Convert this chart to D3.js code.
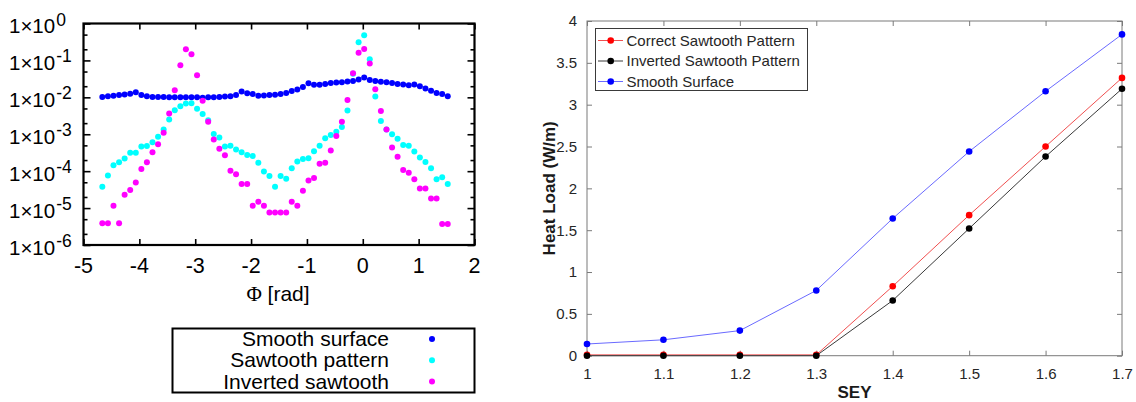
<!DOCTYPE html>
<html>
<head>
<meta charset="utf-8">
<script src="https://cdn.jsdelivr.net/npm/d3@7"></script>
<style>
  body { margin: 0; background: #fff; }
  svg { display: block; }
</style>
</head>
<body>
<svg id="chart" width="1136" height="402"></svg>
<script>
// ---------- left panel: angular distribution (log scale) ----------
const phi = [
  -4.663, -4.563, -4.463, -4.363, -4.264, -4.164, -4.064, -3.964, -3.865, -3.765,
  -3.665, -3.565, -3.466, -3.366, -3.266, -3.167, -3.067, -2.967, -2.867, -2.768,
  -2.668, -2.568, -2.468, -2.369, -2.269, -2.169, -2.069, -1.970, -1.870, -1.770,
  -1.671, -1.571, -1.471, -1.371, -1.272, -1.172, -1.072, -0.972, -0.873, -0.773,
  -0.673, -0.573, -0.474, -0.374, -0.274, -0.175, -0.075, 0.025, 0.125, 0.224,
  0.324, 0.424, 0.524, 0.623, 0.723, 0.823, 0.923, 1.022, 1.122, 1.222,
  1.321, 1.421, 1.521
];
const smoothSurface = [
  1.02e-2, 1.07e-2, 1.10e-2, 1.15e-2, 1.20e-2, 1.26e-2, 1.38e-2, 1.15e-2, 1.07e-2, 1.02e-2,
  1.02e-2, 1.02e-2, 1.00e-2, 1.00e-2, 1.00e-2, 1.00e-2, 1.00e-2, 1.00e-2, 0.98e-2, 1.00e-2,
  1.00e-2, 1.02e-2, 1.05e-2, 1.07e-2, 1.15e-2, 1.45e-2, 1.29e-2, 1.23e-2, 1.10e-2, 1.12e-2,
  1.15e-2, 1.17e-2, 1.23e-2, 1.32e-2, 1.48e-2, 1.62e-2, 1.91e-2, 2.40e-2, 2.19e-2, 2.19e-2,
  2.29e-2, 2.43e-2, 2.51e-2, 2.57e-2, 2.69e-2, 2.75e-2, 3.02e-2, 3.47e-2, 2.95e-2, 2.75e-2,
  2.63e-2, 2.57e-2, 2.45e-2, 2.29e-2, 2.24e-2, 2.14e-2, 2.24e-2, 2.00e-2, 1.74e-2, 1.51e-2,
  1.32e-2, 1.23e-2, 1.07e-2
];
const sawtoothPattern = [
  3.8e-5, 7.6e-5, 1.45e-4, 1.74e-4, 2.19e-4, 3.16e-4, 3.16e-4, 4.68e-4, 4.79e-4, 6.03e-4,
  8.51e-4, 1.35e-3, 2.51e-3, 4.47e-3, 5.75e-3, 6.76e-3, 6.92e-3, 4.90e-3, 3.55e-3, 2.40e-3,
  1.02e-3, 8.13e-4, 4.68e-4, 4.90e-4, 3.89e-4, 3.24e-4, 2.75e-4, 2.57e-4, 1.70e-4, 9.8e-5,
  7.4e-5, 3.8e-5, 7.4e-5, 6.2e-5, 1.20e-4, 1.82e-4, 2.14e-4, 2.24e-4, 3.47e-4, 4.90e-4,
  7.76e-4, 9.55e-4, 1.17e-3, 1.58e-3, 4.37e-3, 4.37e-2, 0.309, 0.479, 0.107, 1.05e-2,
  2.29e-3, 1.35e-3, 1.00e-3, 7.6e-4, 5.13e-4, 4.90e-4, 3.39e-4, 2.34e-4, 1.78e-4, 1.20e-4,
  6.0e-5, 6.8e-5, 4.5e-5
];
const invertedSawtooth = [
  3.9e-6, 3.9e-6, 1.15e-5, 3.9e-6, 2.29e-5, 3.09e-5, 4.90e-5, 1.15e-4, 1.74e-4, 3.24e-4,
  5.37e-4, 1.10e-3, 3.63e-3, 1.55e-2, 7.41e-2, 0.200, 0.146, 3.98e-2, 8.13e-3, 2.19e-3,
  7.24e-4, 4.07e-4, 2.69e-4, 1.02e-4, 8.3e-5, 4.5e-5, 4.5e-5, 1.15e-5, 1.48e-5, 1.15e-5,
  7.6e-6, 7.6e-6, 7.6e-6, 7.6e-6, 1.48e-5, 1.15e-5, 2.95e-5, 5.6e-5, 6.5e-5, 1.58e-4,
  1.70e-4, 3.63e-4, 8.9e-4, 2.19e-3, 8.5e-3, 4.47e-2, 0.162, 0.204, 8.3e-2, 1.66e-2,
  4.27e-3, 1.35e-3, 4.37e-4, 2.45e-4, 1.07e-4, 9.1e-5, 6.0e-5, 3.39e-5, 3.39e-5, 1.82e-5,
  1.82e-5, 3.7e-6, 3.7e-6
];
const phiTicks = [-5, -4, -3, -2, -1, 0, 1, 2];
const decadeExponents = [0, -1, -2, -3, -4, -5, -6];
const angularNames = ["Smooth surface", "Sawtooth pattern", "Inverted sawtooth"];

// ---------- right panel: heat load vs SEY ----------
const sey = [1.0, 1.1, 1.2, 1.3, 1.4, 1.5, 1.6, 1.7];
const heatCorrect = [0.01, 0.01, 0.01, 0.01, 0.83, 1.68, 2.50, 3.32];
const heatInverted = [0, 0, 0, 0, 0.66, 1.52, 2.38, 3.19];
const heatSmooth = [0.14, 0.19, 0.30, 0.78, 1.64, 2.44, 3.16, 3.84];
const heatTicks = [0, 0.5, 1, 1.5, 2, 2.5, 3, 3.5, 4];
const seyTicks = [1.0, 1.1, 1.2, 1.3, 1.4, 1.5, 1.6, 1.7];
const heatNames = ["Correct Sawtooth Pattern", "Inverted Sawtooth Pattern", "Smooth Surface"];

const SANS = "'Liberation Sans', Arial, Helvetica, sans-serif";
const svg = d3.select("#chart");

/* ================= left panel ================= */
(function drawAngular() {
  const box = { left: 83.5, right: 474.5, top: 23.5, bottom: 245 };
  const x = d3.scaleLinear().domain([-5, 2]).range([box.left, box.right]);
  const y = d3.scaleLog().domain([1e-6, 1]).range([box.bottom, box.top]);
  const g = svg.append("g");

  // tick marks: bottom/top (inward) via axis generators
  const axB = d3.axisBottom(x).tickValues(phiTicks).tickSizeInner(-6).tickSizeOuter(0).tickFormat("");
  const axT = d3.axisTop(x).tickValues(phiTicks).tickSizeInner(-6).tickSizeOuter(0).tickFormat("");
  g.append("g").attr("transform", `translate(0,${box.bottom})`).call(axB);
  g.append("g").attr("transform", `translate(0,${box.top})`).call(axT);

  const majors = decadeExponents.map(e => Math.pow(10, e));
  const minors = [];
  decadeExponents.slice(0, -1).forEach(e => [2, 5].forEach(m => minors.push(m * Math.pow(10, e - 1))));
  const axL = d3.axisLeft(y).tickValues(majors).tickSizeInner(-7).tickSizeOuter(0).tickFormat("");
  const axR = d3.axisRight(y).tickValues(majors).tickSizeInner(-7).tickSizeOuter(0).tickFormat("");
  const axLm = d3.axisLeft(y).tickValues(minors).tickSizeInner(-4).tickSizeOuter(0).tickFormat("");
  const axRm = d3.axisRight(y).tickValues(minors).tickSizeInner(-4).tickSizeOuter(0).tickFormat("");
  g.append("g").attr("transform", `translate(${box.left},0)`).call(axL);
  g.append("g").attr("transform", `translate(${box.right},0)`).call(axR);
  g.append("g").attr("transform", `translate(${box.left},0)`).call(axLm);
  g.append("g").attr("transform", `translate(${box.right},0)`).call(axRm);
  g.selectAll(".domain").remove();
  g.selectAll(".tick line").attr("stroke", "#000").attr("stroke-width", 1.6);

  // frame
  g.append("rect")
    .attr("x", box.left).attr("y", box.top)
    .attr("width", box.right - box.left).attr("height", box.bottom - box.top)
    .attr("fill", "none").attr("stroke", "#000").attr("stroke-width", 2.2);

  // x tick labels
  g.selectAll(".xlab").data(phiTicks).enter().append("text")
    .attr("x", d => x(d)).attr("y", box.bottom + 28)
    .attr("text-anchor", "middle")
    .attr("font-family", SANS).attr("font-size", 21.5).attr("fill", "#000")
    .text(d => d < 0 ? "-" + Math.abs(d) : String(d));

  // y tick labels 1×10^n
  const yl = g.selectAll(".ylab").data(decadeExponents).enter().append("text")
    .attr("x", 9).attr("y", d => y(Math.pow(10, d)) + 9.5)
    .attr("font-family", SANS).attr("font-size", 20.5).attr("fill", "#000");
  yl.append("tspan").text("1\u00d710");
  yl.append("tspan").attr("dy", -7.5).attr("dx", 1).attr("font-size", 17.5)
    .text(d => d === 0 ? "0" : "-" + Math.abs(d));

  // axis title
  const t = g.append("text")
    .attr("x", 278).attr("y", 301)
    .attr("text-anchor", "middle").attr("font-size", 21).attr("fill", "#000");
  t.append("tspan").attr("font-family", "'Liberation Serif', 'DejaVu Serif', serif").text("\u03a6");
  t.append("tspan").attr("font-family", SANS).text(" [rad]");

  // points
  const series = [
    { name: angularNames[0], values: smoothSurface, color: "#0000ff" },
    { name: angularNames[1], values: sawtoothPattern, color: "#00ffff" },
    { name: angularNames[2], values: invertedSawtooth, color: "#ff00ff" }
  ];
  series.forEach(s => {
    g.append("g").selectAll("circle")
      .data(phi.map((p, i) => [p, s.values[i]]).filter(d => d[1] != null))
      .enter().append("circle")
      .attr("cx", d => x(d[0])).attr("cy", d => y(d[1]))
      .attr("r", 3).attr("fill", s.color);
  });

  // legend
  const lg = g.append("g");
  lg.append("rect").attr("x", 172.5).attr("y", 328.5).attr("width", 302).attr("height", 64)
    .attr("fill", "#fff").attr("stroke", "#000").attr("stroke-width", 2);
  series.forEach((s, i) => {
    const cy = 339 + i * 21.3;
    lg.append("text").attr("x", 389).attr("y", cy + 7)
      .attr("text-anchor", "end").attr("font-family", SANS).attr("font-size", 21)
      .attr("fill", "#000").text(s.name);
    lg.append("circle").attr("cx", 432).attr("cy", cy).attr("r", 3).attr("fill", s.color);
  });
})();

/* ================= right panel ================= */
(function drawHeat() {
  const box = { left: 587, right: 1122, top: 21, bottom: 355.7 };
  const x = d3.scaleLinear().domain([1, 1.7]).range([box.left, box.right]);
  const y = d3.scaleLinear().domain([0, 4]).range([box.bottom, box.top]);
  const g = svg.append("g");
  const axisColor = "#262626";

  // frame
  g.append("rect")
    .attr("x", box.left).attr("y", box.top)
    .attr("width", box.right - box.left).attr("height", box.bottom - box.top)
    .attr("fill", "none").attr("stroke", "#7a7a7a").attr("stroke-width", 1);

  const axB = d3.axisBottom(x).tickValues(seyTicks).tickSizeInner(-5).tickSizeOuter(0).tickPadding(13)
    .tickFormat(d => String(+d.toFixed(1)));
  const axT = d3.axisTop(x).tickValues(seyTicks).tickSizeInner(-5).tickSizeOuter(0).tickFormat("");
  const axL = d3.axisLeft(y).tickValues(heatTicks).tickSizeInner(-5).tickSizeOuter(0).tickPadding(10)
    .tickFormat(d => String(d));
  const axR = d3.axisRight(y).tickValues(heatTicks).tickSizeInner(-5).tickSizeOuter(0).tickFormat("");
  g.append("g").attr("transform", `translate(0,${box.bottom})`).call(axB);
  g.append("g").attr("transform", `translate(0,${box.top})`).call(axT);
  g.append("g").attr("transform", `translate(${box.left},0)`).call(axL);
  g.append("g").attr("transform", `translate(${box.right},0)`).call(axR);
  g.selectAll(".domain").remove();
  g.selectAll(".tick line").attr("stroke", "#7a7a7a").attr("stroke-width", 1);
  g.selectAll(".tick text").attr("font-family", SANS).attr("font-size", 15).attr("fill", axisColor);

  // axis titles
  g.append("text").attr("x", (box.left + box.right) / 2).attr("y", 398)
    .attr("text-anchor", "middle").attr("font-family", SANS).attr("font-weight", "bold")
    .attr("font-size", 17).attr("fill", "#1a1a1a").text("SEY");
  g.append("text")
    .attr("transform", `translate(555,${(box.top + box.bottom) / 2}) rotate(-90)`)
    .attr("text-anchor", "middle").attr("font-family", SANS).attr("font-weight", "bold")
    .attr("font-size", 17).attr("fill", "#1a1a1a").text("Heat Load (W/m)");

  const series = [
    { name: heatNames[0], values: heatCorrect, line: "#f05050", dot: "#ff0000" },
    { name: heatNames[1], values: heatInverted, line: "#3a3a3a", dot: "#000000" },
    { name: heatNames[2], values: heatSmooth, line: "#6a6aff", dot: "#0000ff" }
  ];
  const line = d3.line().x(d => x(d[0])).y(d => y(d[1]));
  // smooth first, then correct, then inverted on top
  [2, 0, 1].forEach(i => {
    const s = series[i];
    const pts = sey.map((v, j) => [v, s.values[j]]);
    g.append("path").attr("d", line(pts)).attr("fill", "none")
      .attr("stroke", s.line).attr("stroke-width", 1);
    g.append("g").selectAll("circle").data(pts).enter().append("circle")
      .attr("cx", d => x(d[0])).attr("cy", d => y(d[1])).attr("r", 3.3).attr("fill", s.dot);
  });

  // legend
  const lg = g.append("g");
  lg.append("rect").attr("x", 595.5).attr("y", 28.5).attr("width", 212).attr("height", 62)
    .attr("fill", "#fff").attr("stroke", "#3a3a3a").attr("stroke-width", 1);
  series.forEach((s, i) => {
    const cy = 40.5 + i * 20.5;
    lg.append("line").attr("x1", 598).attr("x2", 623).attr("y1", cy).attr("y2", cy)
      .attr("stroke", s.line).attr("stroke-width", 1);
    lg.append("circle").attr("cx", 610.7).attr("cy", cy).attr("r", 3.3).attr("fill", s.dot);
    lg.append("text").attr("x", 626.5).attr("y", cy + 5.2)
      .attr("font-family", SANS).attr("font-size", 15).attr("fill", "#262626").text(s.name);
  });
})();
</script>
</body>
</html>
